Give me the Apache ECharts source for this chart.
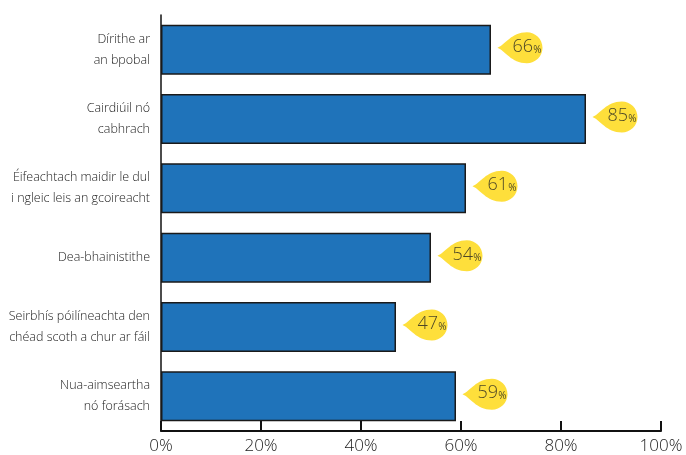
<!DOCTYPE html>
<html><head><meta charset="utf-8">
<script src="https://cdn.jsdelivr.net/npm/echarts@6/dist/echarts.min.js"></script>
<style>html,body{margin:0;padding:0;background:#fff}#c{width:686px;height:455px}</style>
</head><body><div id="c"></div>
<script>
const categories = ["Dírithe ar\nan bpobal","Cairdiúil nó\ncabhrach","Éifeachtach maidir le dul\ni ngleic leis an gcoireacht","Dea-bhainistithe","Seirbhís póilíneachta den\nchéad scoth a chur ar fáil","Nua-aimseartha\nnó forásach"];
const values = [66, 85, 61, 54, 47, 59];
const xTicks = [0, 20, 40, 60, 80, 100];

const FONT = "'Open Sans',sans-serif";
const drop = 'path://M0,16 C8,13 14,0 30,0 C38.8,0 46,7.2 46,16 C46,24.8 38.8,32 30,32 C14,32 8,19 0,16 Z';

const chart = echarts.init(document.getElementById('c'));
chart.setOption({
  animation: false,
  grid: {left: 161, right: 25, top: 15, bottom: 24, containLabel: false, outerBoundsMode: 'none'},
  xAxis: {
    type: 'value', min: 0, max: 100, interval: 20,
    axisLine: {show: true, lineStyle: {color: '#111', width: 2}},
    axisTick: {show: true, inside: true, length: 10, lineStyle: {color: '#111', width: 2}},
    splitLine: {show: false},
    axisLabel: {formatter: v => xTicks.includes(v) ? v + '%' : '', color: '#222', fontSize: 17, fontWeight: 300, fontFamily: FONT, margin: 7}
  },
  yAxis: {
    type: 'category', data: categories, inverse: true,
    axisLine: {show: true, lineStyle: {color: '#111', width: 1.5}},
    axisTick: {show: false},
    axisLabel: {color: '#1a1a1a', fontSize: 12.5, fontWeight: 300, fontFamily: FONT, lineHeight: 21, margin: 11, align: 'right'}
  },
  series: [{
    type: 'bar', data: values, barCategoryGap: '28%',
    itemStyle: {color: '#1f73ba', borderColor: '#1a1a1a', borderWidth: 1.5}
  }, {
    type: 'scatter', data: values.map((v, i) => [v, i]),
    symbol: drop, symbolSize: [45, 31], symbolOffset: [29, -2],
    itemStyle: {color: '#fed70a'},
    label: {
      show: true, position: 'inside', offset: [7, -1],
      formatter: p => '{n|' + p.value[0] + '}{p|%}',
      rich: {
        n: {fontSize: 18, fontWeight: 300, color: '#222', fontFamily: FONT},
        p: {fontSize: 10, fontWeight: 400, color: '#222', fontFamily: FONT, padding: [6, 0, 0, 0]}
      }
    }
  }]
});
</script></body></html>
